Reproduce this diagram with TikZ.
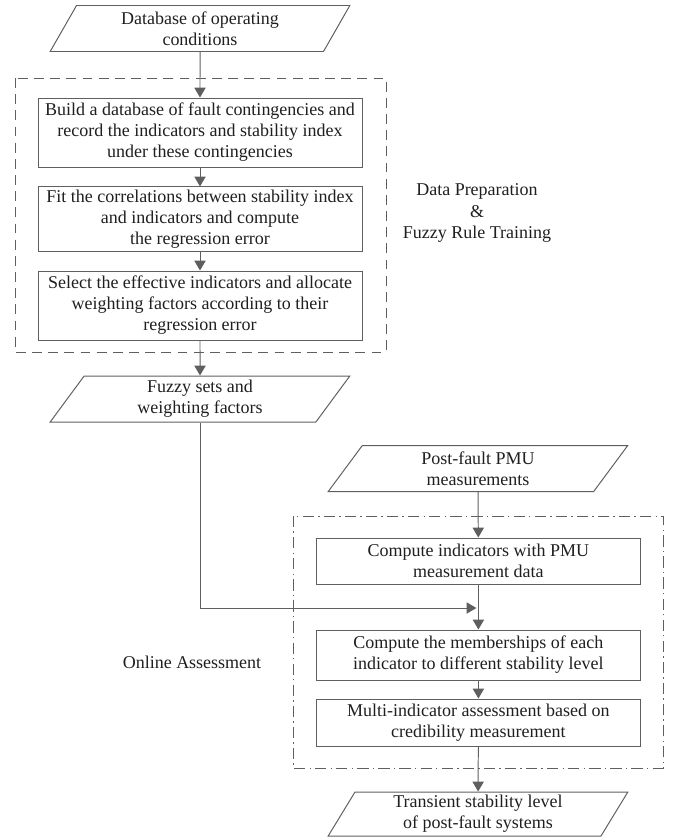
\documentclass[tikz,border=0pt]{standalone}
\usepackage{fontspec}
\setmainfont{Liberation Serif}
\usetikzlibrary{shapes.geometric, arrows.meta}
\definecolor{linegray}{RGB}{95,95,95}

\begin{document}
\begin{tikzpicture}[
	every node/.style={font=\fontsize{12.8}{15}\selectfont, text=black!88},
	proc/.style={draw=linegray, line width=0.7pt, rectangle, minimum width=8.1cm, align=center, inner sep=2pt},
	iobox/.style={draw=linegray, line width=0.7pt, trapezium, trapezium left angle=65, trapezium right angle=115, trapezium stretches=true, minimum width=7.5cm, minimum height=1.15cm, align=center, inner sep=1pt},
	flow/.style={draw=linegray, line width=0.7pt, -{Triangle[length=7pt,width=8pt]}}]
\useasboundingbox (0,0) rectangle (17.025,-21);
	\draw[linegray, line width=0.7pt, dash pattern=on 7pt off 4.5pt] (0.375,-1.95) rectangle (9.65,-8.8);
	\draw[linegray, line width=0.7pt, dash pattern=on 8pt off 3pt on 1pt off 3pt] (7.325,-12.9) rectangle (16.575,-19.2);
	\node[iobox] (db) at (5,-0.7125) {Database of operating\\conditions};
	\node[proc, minimum height=1.725cm] (build) at (5,-3.3125) {Build a database of fault contingencies and\\record the indicators and stability index\\under these contingencies};
	\node[proc, minimum height=1.55cm] (fit) at (5,-5.475) {Fit the correlations between stability index\\and indicators and compute\\the regression error};
	\node[proc, minimum height=1.725cm] (select) at (5,-7.6375) {Select the effective indicators and allocate\\weighting factors according to their\\regression error};
	\node[iobox] (fuzzy) at (5,-9.975) {Fuzzy sets and\\weighting factors};
	\node[iobox] (pmu) at (11.95,-11.7125) {Post-fault PMU\\measurements};
	\node[proc, minimum height=1.15cm] (compute) at (11.96,-14.025) {Compute indicators with PMU\\measurement data};
	\node[proc, minimum height=1.25cm] (member) at (11.96,-16.375) {Compute the memberships of each\\indicator to different stability level};
	\node[proc, minimum height=1.175cm] (multi) at (11.96,-18.0625) {Multi-indicator assessment based on\\credibility measurement};
	\node[iobox, minimum height=1.1cm] (level) at (11.95,-20.35) {Transient stability level\\of post-fault systems};
	\node[align=center] (train) at (11.925,-5.325) {Data Preparation\\\&\\Fuzzy Rule Training};
	\node (online) at (4.8,-16.55) {Online Assessment};
	\coordinate (join) at (11.96,-15.2);
	\draw[flow] (db) -- (build);
	\draw[flow] (build) -- (fit);
	\draw[flow] (fit) -- (select);
	\draw[flow] (select) -- (fuzzy);
	\draw[flow] (fuzzy) |- ([xshift=-0.05cm]join);
	\draw[flow] (pmu) -- (compute);
	\draw[flow] (compute) -- (member);
	\draw[flow] (member) -- (multi);
	\draw[flow] (multi) -- (level);
\end{tikzpicture}
\end{document}
